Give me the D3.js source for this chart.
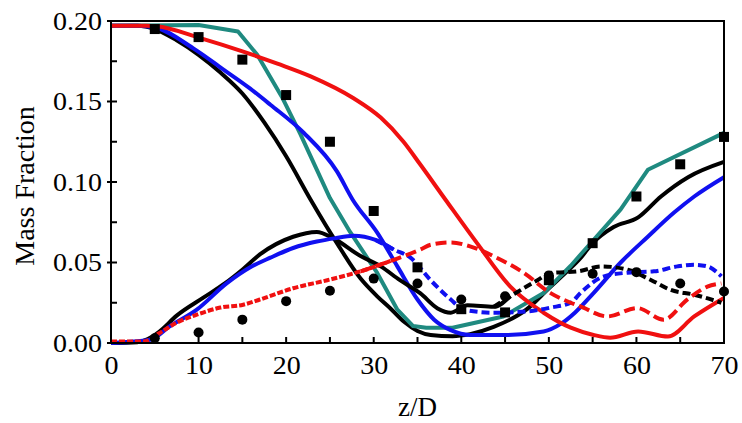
<!DOCTYPE html>
<html><head><meta charset="utf-8">
<script src="https://cdn.jsdelivr.net/npm/d3@7"></script>
<style>body{margin:0;background:#fff}svg{display:block}text{font-family:"Liberation Serif","Times New Roman",serif;fill:#000}</style>
</head><body><svg id="c" width="742" height="423"></svg>
<script>
// ---------- data ----------
const xTicks = [0,10,20,30,40,50,60,70];
const yTicks = [0.00,0.05,0.10,0.15,0.20];
const xLabel = "z/D";
const yLabel = "Mass Fraction";

const expZ = [5,10,15,20,25,30,35,40,45,50,55,60,65,70];
const expSquares = [0.195,0.190,0.176,0.154,0.125,0.082,0.047,0.021,0.019,0.039,0.062,0.091,0.111,0.128];
const expCircles = [0.003,0.0065,0.0145,0.026,0.0325,0.040,0.037,0.027,0.029,0.042,0.043,0.044,0.037,0.032];

const blackMain = [[0,0.197],[3,0.197],[5,0.195],[7.5,0.188],[10,0.179],[12.5,0.168],[15,0.155],[17.5,0.137],[20,0.116],[22.8,0.089],[25.8,0.062],[28.5,0.040],[30.4,0.029],[32,0.021],[33.5,0.013],[35,0.0075],[36.5,0.005],[39,0.0042],[41,0.0055],[43.7,0.010],[47.5,0.021],[50,0.034],[52,0.044],[53.5,0.052],[55,0.062],[57.4,0.072],[60.2,0.078],[62.8,0.091],[65.9,0.103],[70,0.1125]];
const tealMain = [[0,0.197],[10,0.1975],[14.5,0.1935],[16.7,0.179],[19.5,0.153],[21.6,0.130],[25,0.090],[27.3,0.069],[30.4,0.0435],[32.7,0.0207],[34.5,0.0105],[36,0.0095],[39,0.0095],[44.8,0.0165],[49.4,0.031],[52.5,0.048],[55.1,0.064],[58.2,0.083],[61.3,0.1076],[70,0.1305]];
const blueMain = [[0,0.197],[3,0.197],[5,0.196],[9.4,0.183],[12.8,0.170],[15.9,0.158],[18.2,0.148],[22,0.1306],[25.8,0.1066],[27.6,0.089],[30.4,0.0685],[32.7,0.0476],[35,0.027],[36.9,0.0145],[38.8,0.008],[41,0.005],[45,0.005],[49.4,0.0072],[51.4,0.012],[53,0.019],[55.1,0.031],[58.2,0.050],[61.3,0.066],[64.3,0.081],[66.6,0.091],[70,0.103]];
const redMain = [[0,0.197],[4,0.197],[5.2,0.1967],[10.2,0.1894],[15.1,0.181],[19,0.1735],[22.8,0.1656],[27.7,0.152],[30.8,0.140],[33.4,0.125],[35.3,0.111],[38.2,0.089],[41.8,0.062],[45.6,0.035],[49.4,0.0188],[52.5,0.0095],[55.1,0.005],[57,0.0033],[60.2,0.0072],[63.6,0.004],[66.6,0.0165],[70,0.028]];

const blackSecond = [[0,0],[3,0.0005],[4.2,0.0025],[5.5,0.007],[7.5,0.017],[10.5,0.028],[13,0.037],[15.1,0.046],[17,0.055],[20.8,0.066],[23.5,0.069],[25.4,0.065],[28.5,0.054],[30.8,0.0476],[33,0.039],[35.3,0.031],[37.3,0.0215],[38.8,0.0188],[40.7,0.0235],[43.7,0.0225],[45.6,0.029],[48.7,0.039],[50.2,0.0435],[53.3,0.0445],[56,0.0476],[59,0.0455],[61.7,0.039],[63.9,0.033],[66.6,0.030],[69.7,0.025]];
const blueSecond = [[0,0],[4.5,0.002],[6.7,0.0103],[9.8,0.0207],[13.2,0.037],[15.9,0.047],[18.2,0.053],[20.8,0.059],[23.5,0.063],[25.5,0.065],[27.7,0.0666],[30.2,0.064],[32.3,0.058],[34.2,0.053],[36.5,0.039],[38.8,0.027],[40.3,0.0207],[43.7,0.0188],[47.5,0.0196],[50.2,0.022],[52.5,0.025],[53.6,0.031],[56.3,0.0414],[59,0.0437],[62,0.0445],[64.7,0.0476],[66.6,0.0486],[68.1,0.0476],[69.7,0.0414]];
const redSecond = [[0,0.001],[3.7,0.001],[5.6,0.0064],[7.5,0.0126],[9.8,0.0176],[12.5,0.022],[15.1,0.0238],[17,0.027],[20.8,0.034],[24.7,0.039],[28.5,0.0445],[32.3,0.0517],[35.3,0.058],[36.5,0.061],[38.8,0.0625],[41,0.060],[44.1,0.0528],[47.1,0.0437],[50.2,0.031],[52.5,0.025],[53.6,0.0227],[56.7,0.0165],[60.1,0.0217],[63.1,0.0145],[65.8,0.027],[68.1,0.035],[69.7,0.037]];

// ---------- layout / style ----------
const M = {left:111, right:724, top:21, bottom:343};
const teal = "#1f8a80", blue = "#1010f0", red = "#f01010";
const svg = d3.select("#c");
const x = d3.scaleLinear().domain([0,70]).range([M.left, M.right]);
const y = d3.scaleLinear().domain([0,0.20]).range([M.bottom, M.top]);

const smooth = d3.line().x(d=>x(d[0])).y(d=>y(d[1])).curve(d3.curveMonotoneX);
const straight = d3.line().x(d=>x(d[0])).y(d=>y(d[1])).curve(d3.curveLinear);

function drawLine(data, color, gen, dash){
  svg.append("path").attr("d", gen(data)).attr("fill","none").attr("stroke",color)
    .attr("stroke-width",4).attr("stroke-linejoin","round").attr("stroke-dasharray", dash||null);
}
function drawSplit(data, color, breakX, earlyDash, lateDash){
  const early = data.filter(d=>d[0]<=breakX);
  const late = data.filter(d=>d[0]>=breakX);
  const nxt = data.find(d=>d[0]>breakX);
  if (nxt && early[early.length-1][0] < breakX) early.push(nxt);
  const prev = [...data].reverse().find(d=>d[0]<breakX);
  if (prev && late.length && late[0][0] > breakX) late.unshift(prev);
  drawLine(early, color, smooth, earlyDash);
  drawLine(late, color, smooth, lateDash);
}

drawLine(blackMain, "#000", smooth);
drawLine(tealMain, teal, straight);
drawLine(blueMain, blue, smooth);
drawLine(redMain, red, smooth);
drawSplit(blackSecond, "#000", 44, null, "8,4");
drawSplit(blueSecond, blue, 31, null, "8,4");
drawSplit(redSecond, red, 29, "6,2", "11,5");

// markers
svg.append("g").selectAll("rect").data(expZ).join("rect")
  .attr("x", (d)=>x(d)-5).attr("y",(d,i)=>y(expSquares[i])-5).attr("width",10).attr("height",10).attr("fill","#000");
svg.append("g").selectAll("circle").data(expZ).join("circle")
  .attr("cx", d=>x(d)).attr("cy",(d,i)=>y(expCircles[i])).attr("r",5).attr("fill","#000");

// frame
svg.append("rect").attr("x",M.left).attr("y",M.top).attr("width",M.right-M.left).attr("height",M.bottom-M.top)
  .attr("fill","none").attr("stroke","#000").attr("stroke-width",2);

// axes
const xAxis = d3.axisBottom(x).tickValues(xTicks).tickFormat(d3.format("d")).tickSize(0).tickPadding(13);
const gx = svg.append("g").attr("transform",`translate(0,${M.bottom})`).call(xAxis);
gx.select(".domain").remove();
gx.selectAll("text").attr("font-size",25).attr("transform","scale(1.12,1)");
const xAll = d3.range(0,71,5);
svg.append("g").selectAll("line").data(xAll).join("line")
  .attr("x1",d=>x(d)).attr("x2",d=>x(d)).attr("y1",M.bottom).attr("y2",M.bottom-6)
  .attr("stroke","#000").attr("stroke-width",2);

const yAxis = d3.axisLeft(y).tickValues(yTicks).tickFormat(d3.format(".2f")).tickSize(0).tickPadding(9);
const gy = svg.append("g").attr("transform",`translate(${M.left},0)`).call(yAxis);
gy.select(".domain").remove();
gy.selectAll("text").attr("font-size",25).attr("transform","scale(1.12,1)").attr("x",-9/1.12);
const yAll = d3.range(0,0.2001,0.025);
svg.append("g").selectAll("line").data(yAll).join("line")
  .attr("x1",M.left).attr("x2",M.left+6).attr("y1",d=>y(d)).attr("y2",d=>y(d))
  .attr("stroke","#000").attr("stroke-width",2);
svg.append("g").selectAll("line").data(yTicks).join("line")
  .attr("x1",M.left-4).attr("x2",M.left).attr("y1",d=>y(d)).attr("y2",d=>y(d))
  .attr("stroke","#000").attr("stroke-width",2);

svg.append("text").attr("x",(M.left+M.right)/2).attr("y",416).attr("text-anchor","middle")
  .attr("font-size",27).text(xLabel);
svg.append("text").attr("transform",`translate(34,186) rotate(-90)`).attr("text-anchor","middle")
  .attr("font-size",28).text(yLabel);
</script></body></html>
